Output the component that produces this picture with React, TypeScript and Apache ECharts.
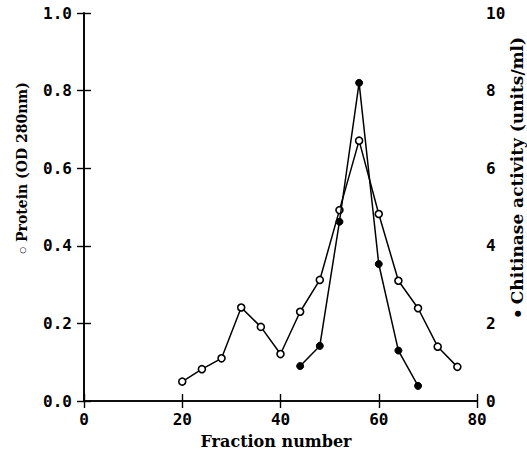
import React, { useEffect, useRef } from "react";
import * as echarts from "echarts";

const fractions = [20, 24, 28, 32, 36, 40, 44, 48, 52, 56, 60, 64, 68, 72, 76];
const protein = [0.05, 0.082, 0.11, 0.241, 0.191, 0.121, 0.23, 0.312, 0.492, 0.671, 0.482, 0.31, 0.239, 0.14, 0.088];
const chitFractions = [44, 48, 52, 56, 60, 64, 68];
const chitinase = [0.9, 1.42, 4.62, 8.2, 3.53, 1.3, 0.39];
const xTitle = "Fraction number";
const leftTitle = "Protein (OD 280nm)";
const rightTitle = "Chitinase activity (units/ml)";

const labelFont = "DejaVu Sans Mono";
const titleFont = "DejaVu Serif";

export default function App() {
  const ref = useRef<HTMLDivElement>(null);
  useEffect(() => {
    document.body.style.margin = "0";
    const chart = echarts.init(ref.current!, null, { renderer: "svg" });
    const axisLine = { show: true, lineStyle: { color: "#000", width: 1.6 } };
    const tick = { show: true, inside: true, length: 7, lineStyle: { color: "#000", width: 1.4 } };
    const lab = { color: "#000", fontFamily: labelFont, fontWeight: "bold" as const, fontSize: 16 };
    chart.setOption({
      animation: false,
      backgroundColor: "#fff",
      grid: { left: 84, right: 50, top: 13, bottom: 51 },
      xAxis: [
        {
          type: "value", min: 0, max: 80, interval: 20, position: "bottom",
          axisLine, axisTick: tick, splitLine: { show: false },
          axisLabel: { ...lab, margin: 10 },
        },
        {
          type: "value", min: 0, max: 80, interval: 20, position: "top",
          axisLine, axisTick: tick, splitLine: { show: false },
          axisLabel: { show: false },
        },
      ],
      yAxis: [
        {
          type: "value", min: 0, max: 1, interval: 0.2, position: "left",
          axisLine, axisTick: tick, splitLine: { show: false },
          axisLabel: { ...lab, margin: 12, formatter: (v: number) => v.toFixed(1) },
        },
        {
          type: "value", min: 0, max: 10, interval: 2, position: "right",
          axisLine, axisTick: tick, splitLine: { show: false },
          axisLabel: { ...lab, margin: 9 },
        },
      ],
      series: [
        {
          type: "line", xAxisIndex: 0, yAxisIndex: 0,
          data: fractions.map((f, i) => [f, protein[i]]),
          symbol: "circle", symbolSize: 7,
          lineStyle: { color: "#000", width: 1.5 },
          itemStyle: { color: "#fff", borderColor: "#000", borderWidth: 1.6 },
          z: 3,
        },
        {
          type: "line", xAxisIndex: 0, yAxisIndex: 1,
          data: chitFractions.map((f, i) => [f, chitinase[i]]),
          symbol: "circle", symbolSize: 7,
          lineStyle: { color: "#000", width: 1.5 },
          itemStyle: { color: "#000", borderColor: "#000", borderWidth: 1 },
          z: 4,
        },
      ],
      graphic: [
        {
          type: "text", x: 276, y: 441,
          style: { text: xTitle, font: `bold 16px "${titleFont}"`, fill: "#000", align: "center", verticalAlign: "middle" },
        },
        {
          type: "text", x: 22, y: 168, rotation: Math.PI / 2,
          style: {
            text: "{s|○} " + leftTitle,
            font: `bold 14px "${titleFont}"`, fill: "#000", align: "center", verticalAlign: "middle",
            rich: { s: { fontFamily: "DejaVu Sans", fontSize: 8, fontWeight: "bold", fill: "#000" } },
          },
        },
        {
          type: "text", x: 517, y: 177, rotation: Math.PI / 2,
          style: {
            text: "{s|●} " + rightTitle,
            font: `bold 17px "${titleFont}"`, fill: "#000", align: "center", verticalAlign: "middle",
            rich: { s: { fontFamily: "DejaVu Sans", fontSize: 8, fontWeight: "bold", fill: "#000" } },
          },
        },
      ],
    });
    return () => chart.dispose();
  }, []);
  return <div ref={ref} style={{ width: 527, height: 452 }} />;
}
